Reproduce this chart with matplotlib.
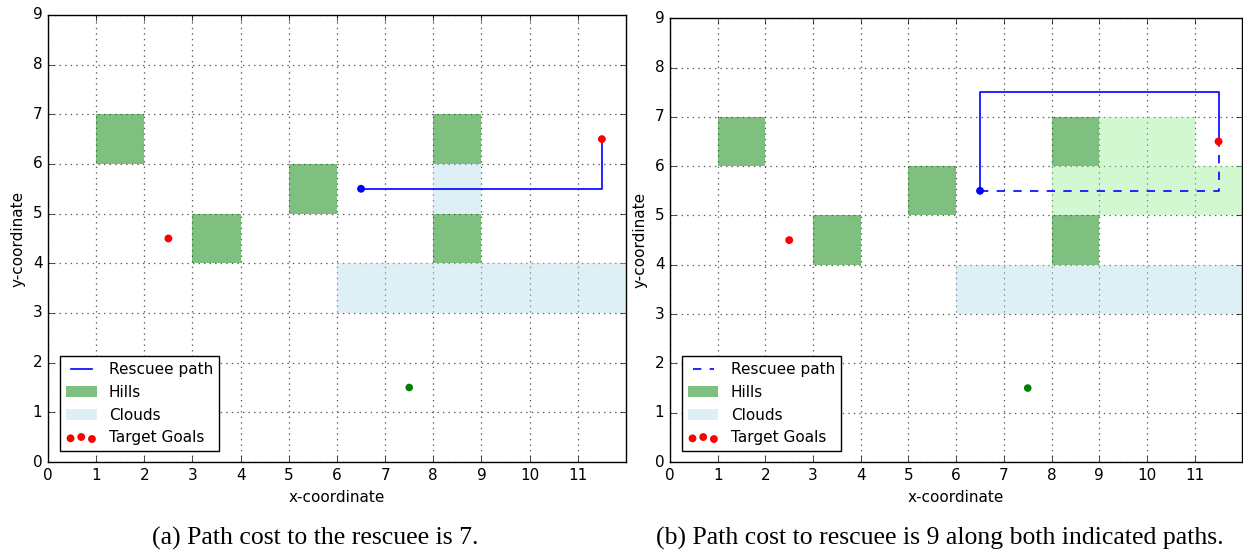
import matplotlib
matplotlib.use("Agg")
import matplotlib.pyplot as plt
from matplotlib.patches import Rectangle

plt.style.use("classic")
plt.rcParams["figure.facecolor"] = "white"
plt.rcParams["savefig.facecolor"] = "white"
plt.rcParams["font.size"] = 11
plt.rcParams["legend.fontsize"] = 11

# grid cells (lower-left corners), each 1x1 unless given a width
hills = [(1, 6), (5, 5), (3, 4), (8, 6), (8, 4)]
clouds_a = [(8, 5, 1, 1), (6, 3, 6, 1)]
clouds_b = [(6, 3, 6, 1)]
fog_b = [(9, 6, 2, 1), (8, 5, 4, 1)]

goals_x = [2.5, 11.5]
goals_y = [4.5, 6.5]
rescuer = (7.5, 1.5)
rescuee = (6.5, 5.5)

path_a_x = [6.5, 11.5, 11.5]
path_a_y = [5.5, 5.5, 6.5]
path_b_upper_x = [6.5, 6.5, 11.5, 11.5]
path_b_upper_y = [5.5, 7.5, 7.5, 6.5]

captions = ["(a) Path cost to the rescuee is 7.",
            "(b) Path cost to rescuee is 9 along both indicated paths."]


def draw_map(ax, clouds, extra=()):
    for i, (x, y) in enumerate(hills):
        ax.add_patch(Rectangle((x, y), 1, 1, facecolor="g", edgecolor="none",
                               alpha=0.5, label="Hills" if i == 0 else None))
    for i, (x, y, w, h) in enumerate(clouds):
        ax.add_patch(Rectangle((x, y), w, h, facecolor="lightblue",
                               edgecolor="none", alpha=0.4,
                               label="Clouds" if i == 0 else None))
    for x, y, w, h in extra:
        ax.add_patch(Rectangle((x, y), w, h, facecolor="lightgreen",
                               edgecolor="none", alpha=0.4))
    ax.scatter(goals_x, goals_y, c="r", s=32, edgecolors="none",
               label="Target Goals", zorder=5)
    ax.scatter([rescuer[0]], [rescuer[1]], c="g", s=30, edgecolors="none", zorder=5)
    ax.scatter([rescuee[0]], [rescuee[1]], c="b", s=32, edgecolors="none", zorder=5)
    ax.set_xlim(0, 12)
    ax.set_ylim(0, 9)
    ax.set_xticks(range(0, 12))
    ax.set_yticks(range(0, 10))
    ax.grid(True, color="0.35", linestyle=":", linewidth=0.9)
    ax.set_axisbelow(True)
    ax.set_xlabel("x-coordinate")
    ax.set_ylabel("y-coordinate")


fig = plt.figure(figsize=(12.43, 5.52), dpi=100)
ax1 = fig.add_axes([0.0386, 0.163, 0.4650, 0.810])
ax2 = fig.add_axes([0.5390, 0.163, 0.4605, 0.804])

ax1.plot(path_a_x, path_a_y, color="b", linewidth=1.2, label="Rescuee path")
draw_map(ax1, clouds_a)

ax2.plot(path_b_upper_x, path_b_upper_y, color="b", linewidth=1.2)
ax2.plot(path_a_x, path_a_y, color="b", linewidth=1.2, linestyle="--",
         dashes=(6, 6), label="Rescuee path")
draw_map(ax2, clouds_b, fog_b)

for ax in (ax1, ax2):
    handles, labels = ax.get_legend_handles_labels()
    order = ["Rescuee path", "Hills", "Clouds", "Target Goals"]
    hl = dict(zip(labels, handles))
    ax.legend([hl[k] for k in order], order, loc="lower left",
              scatterpoints=3, fontsize=11, borderaxespad=0.4,
              bbox_to_anchor=(0.01, 0.01))

# sub-captions, centred under each half of the page
for xc, text in zip((0.254, 0.756), captions):
    fig.text(xc, 0.004, text, ha="center", va="bottom",
             fontsize=18.5, family="Liberation Serif")

fig.savefig("out.png", dpi=100)
